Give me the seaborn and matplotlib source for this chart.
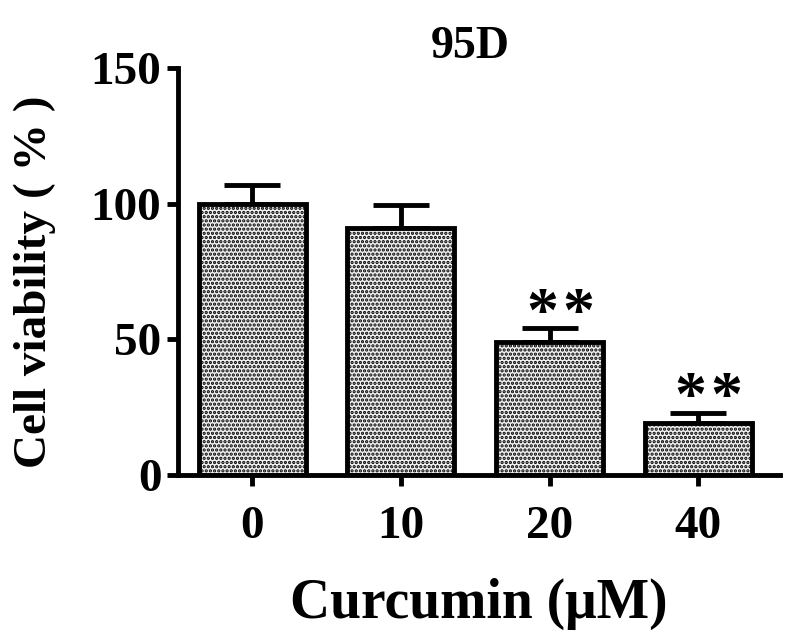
import pandas as pd
import matplotlib.pyplot as plt
import seaborn as sns

doses = ['0', '10', '20', '40']
viability = [100, 91, 49, 19]
sem = [7, 8.5, 5, 4]
stars = [0, 0, 2, 2]

sns.set_style('ticks')
plt.rcParams['font.family'] = ['Liberation Serif', 'DejaVu Serif']
plt.rcParams['font.weight'] = 'bold'
plt.rcParams['hatch.linewidth'] = 1.6
for key in ['text.color', 'axes.labelcolor', 'axes.edgecolor',
            'xtick.color', 'ytick.color']:
    plt.rcParams[key] = 'black'

df = pd.DataFrame({'dose': doses, 'viability': viability})

fig = plt.figure(figsize=(8, 6.39), dpi=100)
ax = fig.add_axes([0.2225, 0.2566, 0.7525, 0.637])

sns.barplot(data=df, x='dose', y='viability', ax=ax, width=0.72,
            color='#f0f0f0', edgecolor='black', linewidth=3.5, errorbar=None,
            zorder=2)
for p in ax.patches:
    p.set_hatch('....')

# upper error bars only
ax.errorbar(range(len(doses)), viability, yerr=[[0] * len(sem), sem],
            fmt='none', ecolor='black', elinewidth=3.5, capsize=20,
            capthick=3.5, zorder=1)

for i, n in enumerate(stars):
    for k in range(n):
        ax.text(i + 0.07 + (k - 0.5) * 0.24, viability[i] + sem[i] + 4.5, '*',
                ha='center', va='center', fontsize=46, fontweight='bold')

ax.set_ylim(0, 150)
ax.set_xlim(-0.5, 3.55)
ax.set_yticks([0, 50, 100, 150])
ax.set_xlabel('Curcumin (μM)', fontsize=40, fontweight='bold', labelpad=22)
ax.set_ylabel('Cell viability ( % )', fontsize=34, fontweight='bold')
ax.yaxis.set_label_coords(-0.202, 0.474)
ax.set_title('95D', fontsize=33, fontweight='bold', pad=4, x=0.485)
ax.tick_params(axis='both', labelsize=34, width=3.5, length=8, direction='out')
ax.tick_params(axis='x', pad=14)
ax.tick_params(axis='y', pad=4)
for lab in ax.get_xticklabels() + ax.get_yticklabels():
    lab.set_fontweight('bold')
sns.despine(ax=ax)
ax.spines['left'].set_linewidth(3.5)
ax.spines['bottom'].set_linewidth(3.5)

fig.savefig('out.png', dpi=100)
